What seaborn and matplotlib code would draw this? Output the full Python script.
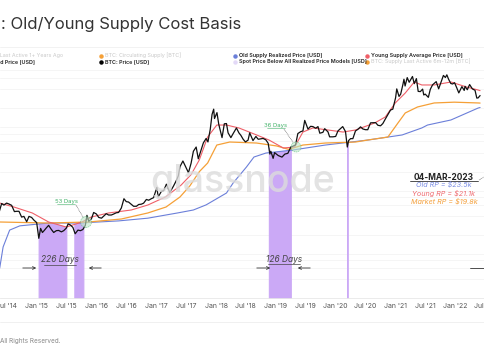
import numpy as np
import pandas as pd
import matplotlib
matplotlib.use("Agg")
import matplotlib.pyplot as plt
import matplotlib.dates as mdates
from matplotlib.patches import Ellipse, FancyArrowPatch
from matplotlib.lines import Line2D
from matplotlib.ticker import FuncFormatter, NullFormatter
import seaborn as sns

# ---------------- data ----------------
price_dates = [
    "2014-05-15", "2014-06-01", "2014-06-15", "2014-07-01", "2014-07-15", "2014-08-01", "2014-08-18",
    "2014-09-01", "2014-09-15", "2014-10-01", "2014-10-15", "2014-11-01", "2014-11-15", "2014-12-01",
    "2014-12-15", "2015-01-01", "2015-01-14", "2015-01-25", "2015-02-05", "2015-02-15", "2015-03-01",
    "2015-03-15", "2015-04-01", "2015-04-15", "2015-05-01", "2015-05-15", "2015-06-01", "2015-06-15",
    "2015-07-01", "2015-07-12", "2015-07-25", "2015-08-10", "2015-08-24", "2015-09-10", "2015-09-25",
    "2015-10-10", "2015-10-25", "2015-11-04", "2015-11-15", "2015-12-01", "2015-12-15", "2016-01-01",
    "2016-01-15", "2016-02-01", "2016-02-15", "2016-03-01", "2016-03-15", "2016-04-01", "2016-04-15",
    "2016-05-01", "2016-05-15", "2016-06-01", "2016-06-17", "2016-07-01", "2016-07-15", "2016-08-01",
    "2016-08-15", "2016-09-01", "2016-09-15", "2016-10-01", "2016-10-15", "2016-11-01", "2016-11-15",
    "2016-12-01", "2016-12-15", "2017-01-04", "2017-01-12", "2017-02-01", "2017-02-15", "2017-03-03",
    "2017-03-24", "2017-04-15", "2017-05-01", "2017-05-15", "2017-05-25", "2017-06-12", "2017-06-25",
    "2017-07-16", "2017-08-01", "2017-08-15", "2017-09-01", "2017-09-14", "2017-10-01", "2017-10-15",
    "2017-11-01", "2017-11-12", "2017-11-26", "2017-12-07", "2017-12-17", "2017-12-22", "2018-01-06",
    "2018-01-17", "2018-02-06", "2018-02-20", "2018-03-05", "2018-03-15", "2018-04-01", "2018-04-15",
    "2018-05-05", "2018-05-20", "2018-06-01", "2018-06-15", "2018-06-29", "2018-07-15", "2018-07-25",
    "2018-08-14", "2018-09-01", "2018-09-15", "2018-10-01", "2018-10-15", "2018-11-01", "2018-11-15",
    "2018-11-25", "2018-12-01", "2018-12-15", "2018-12-24", "2019-01-15", "2019-02-07", "2019-02-25",
    "2019-03-15", "2019-04-02", "2019-04-15", "2019-05-01", "2019-05-15", "2019-06-01", "2019-06-15",
    "2019-06-26", "2019-07-16", "2019-08-01", "2019-08-15", "2019-09-01", "2019-09-15", "2019-09-26",
    "2019-10-15", "2019-10-26", "2019-11-15", "2019-11-25", "2019-12-15", "2020-01-01", "2020-01-15",
    "2020-02-13", "2020-03-01", "2020-03-12", "2020-03-20", "2020-04-01", "2020-04-15", "2020-05-01",
    "2020-05-15", "2020-06-01", "2020-06-15", "2020-07-01", "2020-07-15", "2020-08-01", "2020-08-15",
    "2020-09-01", "2020-09-15", "2020-10-01", "2020-10-15", "2020-11-01", "2020-11-15", "2020-12-01",
    "2020-12-15", "2021-01-01", "2021-01-08", "2021-01-22", "2021-02-01", "2021-02-15", "2021-02-21",
    "2021-02-28", "2021-03-13", "2021-03-25", "2021-04-14", "2021-04-25", "2021-05-08", "2021-05-19",
    "2021-06-01", "2021-06-15", "2021-06-22", "2021-07-01", "2021-07-20", "2021-08-01", "2021-08-15",
    "2021-09-06", "2021-09-21", "2021-10-01", "2021-10-20", "2021-11-01", "2021-11-10", "2021-11-20",
    "2021-12-04", "2021-12-15", "2021-12-27", "2022-01-10", "2022-01-22", "2022-02-10", "2022-02-24",
    "2022-03-01", "2022-03-15", "2022-03-29", "2022-04-15", "2022-05-01", "2022-05-12", "2022-05-20",
    "2022-06-01",
]
price_values = [
    445, 630, 595, 640, 620, 590, 470,
    475, 475, 385, 395, 325, 395, 380,
    345, 315, 178, 255, 220, 235, 260,
    285, 245, 220, 235, 237, 225, 235,
    258, 300, 290, 265, 210, 240, 235,
    245, 285, 410, 330, 360, 455, 430,
    380, 370, 400, 435, 415, 415, 430,
    450, 455, 535, 750, 675, 665, 610,
    570, 570, 608, 615, 638, 730, 710,
    750, 780, 1130, 800, 985, 1010, 1270,
    940, 1180, 1420, 1720, 2400, 2950, 2500,
    1930, 2720, 4200, 4900, 3200, 4400, 5700,
    6700, 5900, 9300, 16000, 19400, 13800, 17100,
    11200, 6900, 11400, 11500, 8200, 6900, 8000,
    9800, 8200, 7500, 6500, 5900, 6300, 8200,
    6200, 7200, 6500, 6600, 6700, 6350, 5600,
    3800, 4200, 3250, 4000, 3600, 3400, 3800,
    3900, 4900, 5050, 5300, 8000, 8550, 8800,
    12900, 9400, 10400, 10300, 9700, 10300, 8100,
    8350, 9550, 8500, 7100, 7100, 7200, 8800,
    10300, 8600, 4900, 6200, 6650, 6650, 8800,
    9300, 10200, 9450, 9200, 9200, 11800, 11850,
    11900, 10800, 10600, 11500, 13800, 15900, 18800,
    19400, 29400, 40500, 30800, 33500, 48000, 57500,
    45000, 61000, 51500, 63500, 49000, 58800, 37000,
    36700, 40200, 32500, 33500, 29800, 39900, 47000,
    52700, 40600, 48200, 66000, 61300, 67500, 58000,
    49300, 48400, 50700, 41800, 35000, 44000, 38300,
    44400, 39300, 47400, 40500, 38500, 29000, 29200,
    31800,
]

old_rp_dates = ["2014-05-20", "2014-06-10", "2014-07-20", "2014-09-20", "2015-03-15", "2015-09-15",
                "2016-05-15", "2016-11-10", "2017-05-10", "2017-08-15", "2017-11-01", "2018-03-05",
                "2018-04-15", "2018-07-05", "2018-08-20", "2018-11-01", "2019-04-15", "2019-10-30",
                "2020-07-15", "2021-02-10", "2021-06-10", "2021-07-15", "2021-12-05", "2022-05-20",
                "2022-06-01"]
old_rp_values = [60, 130, 240, 280, 310, 310,
                 335, 370, 447, 498, 600, 922,
                 1330, 2370, 3410, 3940, 4400, 5270,
                 6320, 7600, 9800, 10900, 13100, 20200,
                 20600]

market_rp_dates = ["2014-05-20", "2015-03-15", "2015-11-15", "2016-06-01", "2016-11-10", "2017-03-01",
                   "2017-05-25", "2017-07-25", "2017-09-20", "2017-11-10", "2018-01-05", "2018-03-25",
                   "2018-09-05", "2019-01-05", "2019-03-20", "2019-06-15", "2019-10-30", "2020-05-01",
                   "2020-07-15", "2020-11-15", "2021-01-15", "2021-03-01", "2021-05-15", "2021-08-25",
                   "2021-12-25", "2022-05-20", "2022-06-01"]
market_rp_values = [322, 310, 322, 359, 447, 555,
                    798, 1200, 2000, 2740, 5270, 5880,
                    5670, 5100, 4500, 5270, 5670, 5880,
                    6320, 7050, 11700, 16900, 21000, 24300,
                    25000, 24300, 24200]

young_dates = ["2014-05-20", "2014-08-15", "2014-12-05", "2015-03-15", "2015-07-01", "2015-10-05",
               "2015-12-01", "2016-03-15", "2016-08-01", "2016-11-10", "2017-02-25", "2017-06-01",
               "2017-08-01", "2017-09-20", "2017-11-10", "2018-01-05", "2018-03-05", "2018-05-20",
               "2018-09-05", "2018-11-20", "2019-02-15", "2019-04-25", "2019-06-15", "2019-08-15",
               "2019-11-15", "2020-02-15", "2020-05-01", "2020-08-25", "2020-10-30", "2020-12-30",
               "2021-03-01", "2021-04-25", "2021-06-10", "2021-08-25", "2021-12-05", "2022-03-10",
               "2022-05-20", "2022-06-01"]
young_values = [641, 555, 447, 322, 268, 322,
                386, 447, 498, 597, 798, 1230,
                1800, 3060, 7050, 10900, 10900, 9800,
                7600, 6320, 4730, 4900, 8450, 9800,
                9100, 8450, 9100, 11700, 14600, 24300,
                34900, 52000, 46700, 46700, 52000, 43400,
                38900, 38000]

band_starts = ["2015-01-13", "2015-03-17", "2015-08-19", "2018-11-19", "2020-03-12"]
band_ends = ["2015-03-14", "2015-07-01", "2015-10-13", "2019-04-02", "2020-03-13"]

tick_dates = ["2014-07-01", "2015-01-01", "2015-07-01", "2016-01-01", "2016-07-01", "2017-01-01",
              "2017-07-01", "2018-01-01", "2018-07-01", "2019-01-01", "2019-07-01", "2020-01-01",
              "2020-07-01", "2021-01-01", "2021-07-01", "2022-01-01", "2022-07-01"]

# ---------------- styling ----------------
sns.set_theme(style="white")
plt.rcParams['font.family'] = ['Inter', 'DejaVu Sans']

W, H = 485, 360
fig = plt.figure(figsize=(4.85, 3.6), dpi=100)
fig.patch.set_facecolor("white")


def F(x, y):
    return (x / W, 1 - y / H)


ax_top, ax_bot = 68, 298
ax = fig.add_axes([0, 1 - ax_bot / H, 1, (ax_bot - ax_top) / H])
ax.set_facecolor("white")
ax.set_yscale("log")

C_PRICE = "#111111"
C_RED = "#ef5f68"
C_ORANGE = "#f5a037"
C_BLUE = "#6b7fd9"
C_PURPLE = "#cba9f6"

ymin, ymax = 10 ** 1.309, 10 ** 4.937

old_df = pd.DataFrame({"date": pd.to_datetime(old_rp_dates), "value": old_rp_values})
mkt_df = pd.DataFrame({"date": pd.to_datetime(market_rp_dates), "value": market_rp_values})
yng_df = pd.DataFrame({"date": pd.to_datetime(young_dates), "value": young_values})
price_df = pd.DataFrame({"date": pd.to_datetime(price_dates), "value": price_values})


def logi(df, t):
    return 10 ** np.interp(mdates.date2num(t), mdates.date2num(df["date"]), np.log10(df["value"]))


# purple bands (spot below all realized price models)
for s, e in zip(band_starts, band_ends):
    t = pd.date_range(s, e, periods=20)
    top = np.minimum(np.minimum(logi(old_df, t), logi(mkt_df, t)), logi(yng_df, t))
    top = np.maximum(top, logi(price_df, t))
    ax.fill_between(t, ymin, top, color=C_PURPLE, lw=0.8, edgecolor=C_PURPLE, zorder=1)

sns.lineplot(data=old_df, x="date", y="value", ax=ax, color=C_BLUE, lw=0.8, zorder=3)
sns.lineplot(data=mkt_df, x="date", y="value", ax=ax, color=C_ORANGE, lw=0.9, zorder=3)
sns.lineplot(data=yng_df, x="date", y="value", ax=ax, color=C_RED, lw=0.8, zorder=4)
sns.lineplot(data=price_df, x="date", y="value", ax=ax, color=C_PRICE, lw=0.9, zorder=5)

ax.set_xlim(pd.Timestamp("2014-05-22"), pd.Timestamp("2022-05-23"))
ax.set_ylim(ymin, ymax)
ax.set_xlabel("")
ax.set_ylabel("")

grid_vals = [40, 60, 80, 100, 200, 400, 600, 800, 1000, 2000, 4000, 6000, 8000, 10000,
             20000, 40000, 60000, 80000]
ax.set_yticks(grid_vals)
ax.yaxis.set_minor_locator(matplotlib.ticker.NullLocator())
ax.yaxis.set_major_formatter(NullFormatter())
ax.grid(axis="y", color="#f4f4f4", lw=0.6)
ax.grid(axis="x", visible=False)
ax.tick_params(axis="y", length=0)

ax.set_xticks(pd.to_datetime(tick_dates))
ax.xaxis.set_major_formatter(FuncFormatter(lambda v, p: mdates.num2date(v).strftime("%b '%y")))
ax.tick_params(axis="x", length=0, pad=3.5, labelsize=5, labelcolor="#555555")
for sp in ["top", "left", "right"]:
    ax.spines[sp].set_visible(False)
ax.spines["bottom"].set_color("#e8e8e8")
ax.spines["bottom"].set_linewidth(0.6)

# watermark
fig.text(*F(335, 192), "glassnode", fontsize=27, color="#dcdcdc", ha="right", va="baseline",
         fontweight="medium", alpha=0.8, zorder=0)

# title
fig.text(*F(1, 29.5), ": Old/Young Supply Cost Basis", fontsize=12, color="#333333",
         ha="left", va="baseline")

# separators
fig.add_artist(Line2D([0, 1], [1 - 47 / H] * 2, color="#f0f0f0", lw=0.6, transform=fig.transFigure))
fig.add_artist(Line2D([0, 1], [1 - 322 / H] * 2, color="#eeeeee", lw=0.6, transform=fig.transFigure))

# legend
LFS = 3.9
FADED = "#c9c9c9"
DARK = "#222222"


def leg_marker(x, y, color):
    fig.add_artist(Line2D([x / W], [1 - y / H], marker="o", ms=2.2, color=color, lw=0,
                          transform=fig.transFigure))


r1, r2 = 57, 63.5
fig.text(*F(63, r1), "BTC: Supply Last Active 1+ Years Ago", fontsize=LFS, color=FADED, ha="right", va="baseline")
fig.text(*F(35, r2), "BTC: Realized Price [USD]", fontsize=LFS, color=DARK, ha="right", va="baseline",
         fontweight="semibold")
leg_marker(101, r1 - 1.5, C_ORANGE)
fig.text(*F(105, r1), "BTC: Circulating Supply [BTC]", fontsize=LFS, color=FADED, va="baseline")
leg_marker(101, r2 - 1.5, "#000000")
fig.text(*F(105, r2), "BTC: Price [USD]", fontsize=LFS, color=DARK, va="baseline", fontweight="semibold")
leg_marker(235, r1 - 1.5, C_BLUE)
fig.text(*F(239, r1), "Old Supply Realized Price [USD]", fontsize=LFS, color=DARK, va="baseline",
         fontweight="semibold")
leg_marker(235, r2 - 1.5, "#e3d9f7")
fig.text(*F(239, r2), "Spot Price Below All Realized Price Models [USD]", fontsize=LFS, color=DARK,
         va="baseline", fontweight="semibold")
leg_marker(367, r1 - 1.5, C_RED)
fig.text(*F(371, r1), "Young Supply Average Price [USD]", fontsize=LFS, color=DARK, va="baseline",
         fontweight="semibold")
leg_marker(367, r2 - 1.5, C_ORANGE)
fig.text(*F(371, r2), "BTC: Supply Last Active 6m-12m [BTC]", fontsize=LFS, color=FADED, va="baseline")

# footer
fig.text(*F(0, 343), "All Rights Reserved.", fontsize=4.6, color="#888888", va="baseline")

# annotations: days below realized price
GREEN = "#45b36b"


def green_note(label, tx, ty, cx, cy, r, lx0, ly0):
    fig.text(*F(tx, ty), label, fontsize=4.3, color=GREEN, ha="center", va="center")
    fig.add_artist(Line2D([(tx - 9) / W, (tx + 9) / W], [1 - (ty + 3) / H] * 2, color=GREEN, lw=0.4,
                          transform=fig.transFigure))
    fig.add_artist(Line2D([lx0 / W, (cx - r * 0.5) / W], [1 - ly0 / H, 1 - (cy - r * 0.8) / H],
                          color="#555555", lw=0.5, ls=(0, (1, 1)), transform=fig.transFigure))
    fig.add_artist(Ellipse(F(cx, cy), 2 * r / W, 2 * r / H, transform=fig.transFigure,
                           facecolor="#bfe8c9", alpha=0.6, edgecolor=GREEN, lw=0.5, ls=(0, (2, 1)),
                           zorder=6))


green_note("53 Days", 66.5, 201, 86, 222, 5.5, 76, 205)
green_note("36 Days", 275.5, 125, 296, 147, 5, 284, 129)


def days_note(label, tx, ty, a1, a2, b1, b2, ay):
    fig.text(*F(tx, ty), label, fontsize=6, color="#444444", ha="center", va="center", style="italic")
    fig.add_artist(Line2D([(tx - 16) / W, (tx + 16) / W], [1 - (ty + 4.5) / H] * 2, color="#444444",
                          lw=0.5, transform=fig.transFigure))
    for p0, p1 in [(a1, a2), (b1, b2)]:
        fig.add_artist(FancyArrowPatch(F(p0, ay), F(p1, ay), transform=fig.transFigure,
                                       arrowstyle="->", mutation_scale=5, lw=0.6, color="#333333"))


days_note("226 Days", 60, 260, 20, 39, 104, 86, 268)
days_note("126 Days", 284, 259.5, 254, 273, 313, 295, 268)
fig.add_artist(Line2D([470 / W, 1.0], [1 - 268 / H] * 2, color="#333333", lw=0.6,
                      transform=fig.transFigure))

# right annotation
fig.text(*F(443.5, 177.5), "04-MAR-2023", fontsize=6, color="#222222", ha="center", va="center",
         fontweight="bold")
fig.add_artist(Line2D([410 / W, 478 / W], [1 - 181 / H] * 2, color="#333333", lw=0.6,
                      transform=fig.transFigure))
fig.add_artist(Line2D([479 / W, 486 / W], [1 - 180 / H, 1 - 176 / H], color="#555555", lw=0.5,
                      ls=(0, (1, 1)), transform=fig.transFigure))
fig.text(*F(444, 184.5), "Old RP = $23.5k", fontsize=5.2, color="#7a8de3", ha="center", va="center",
         style="italic")
fig.text(*F(444, 193.5), "Young RP = $21.1k", fontsize=5.2, color="#ef6a70", ha="center", va="center",
         style="italic")
fig.text(*F(444, 201.5), "Market RP = $19.8k", fontsize=5.2, color="#f4a03c", ha="center", va="center",
         style="italic")

fig.savefig("out.png", dpi=100)
